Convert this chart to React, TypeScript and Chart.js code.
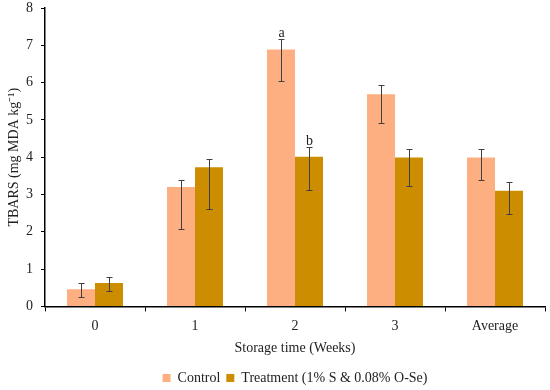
import React, { useEffect, useRef } from "react";
import { Chart, registerables } from "chart.js";

Chart.register(...registerables);

const categories = ["0", "1", "2", "3", "Average"];
const controlValues = [0.46, 3.2, 6.89, 5.69, 3.99];
const controlErrPlus = [0.18, 0.2, 0.27, 0.24, 0.23];
const controlErrMinus = [0.22, 1.13, 0.85, 0.76, 0.59];
const treatmentValues = [0.63, 3.73, 4.01, 3.99, 3.1];
const treatmentErrPlus = [0.17, 0.23, 0.27, 0.23, 0.23];
const treatmentErrMinus = [0.23, 1.13, 0.88, 0.76, 0.61];
const controlLetters = ["", "", "a", "", ""];
const treatmentLetters = ["", "", "b", "", ""];
const yTicks = [0, 1, 2, 3, 4, 5, 6, 7, 8];

const FONT = "'Liberation Serif', 'Times New Roman', serif";

const errorBarPlugin = {
  id: "errorBars",
  afterDatasetsDraw(chart: any) {
    const ctx = chart.ctx;
    const yScale = chart.scales.y;
    const sets = [
      { plus: controlErrPlus, minus: controlErrMinus, vals: controlValues, letters: controlLetters },
      { plus: treatmentErrPlus, minus: treatmentErrMinus, vals: treatmentValues, letters: treatmentLetters },
    ];
    ctx.save();
    sets.forEach((s, di) => {
      const meta = chart.getDatasetMeta(di);
      meta.data.forEach((bar: any, i: number) => {
        const x = Math.round(bar.x) + 0.5;
        const top = Math.round(yScale.getPixelForValue(s.vals[i] + s.plus[i])) + 0.5;
        const bottom = Math.round(yScale.getPixelForValue(s.vals[i] - s.minus[i])) + 0.5;
        ctx.strokeStyle = "#404040";
        ctx.lineWidth = 1;
        ctx.beginPath();
        ctx.moveTo(x, top);
        ctx.lineTo(x, bottom);
        ctx.moveTo(x - 3, top);
        ctx.lineTo(x + 3, top);
        ctx.moveTo(x - 3, bottom);
        ctx.lineTo(x + 3, bottom);
        ctx.stroke();
        if (s.letters[i]) {
          ctx.fillStyle = "#222";
          ctx.font = `14px ${FONT}`;
          ctx.textAlign = "center";
          ctx.textBaseline = "alphabetic";
          ctx.fillText(s.letters[i], x, top - 3);
        }
      });
    });
    ctx.restore();
  },
};

export default function App() {
  const ref = useRef<HTMLCanvasElement | null>(null);
  useEffect(() => {
    if (!ref.current) return;
    const chart = new Chart(ref.current, {
      type: "bar",
      data: {
        labels: categories,
        datasets: [
          {
            label: "Control",
            data: controlValues,
            backgroundColor: "#FDAF82",
            categoryPercentage: 0.56,
            barPercentage: 1,
          },
          {
            label: "Treatment (1% S & 0.08% O-Se)",
            data: treatmentValues,
            backgroundColor: "#CC8E00",
            categoryPercentage: 0.56,
            barPercentage: 1,
          },
        ],
      },
      options: {
        animation: false,
        responsive: false,
        maintainAspectRatio: false,
        layout: { padding: { top: 0, right: 5, left: 0, bottom: -5 } },
        plugins: {
          tooltip: { enabled: false },
          legend: {
            position: "bottom",
            fullSize: false,
            labels: {
              boxWidth: 8,
              boxHeight: 8,
              color: "#222",
              padding: 6,
              font: { family: FONT, size: 14 },
            },
          },
        },
        scales: {
          x: {
            grid: {
              display: true,
              drawOnChartArea: false,
              drawTicks: true,
              tickLength: 5,
              color: "#000",
              offset: true,
            },
            border: { display: true, color: "#000", width: 1.5 },
            ticks: { color: "#222", font: { family: FONT, size: 14 }, padding: 7 },
            title: {
              display: true,
              text: "Storage time (Weeks)",
              color: "#222",
              font: { family: FONT, size: 14 },
              padding: { top: -2, bottom: 8 },
            },
          },
          y: {
            min: 0,
            max: 8,
            afterBuildTicks(scale: any) {
              scale.ticks = yTicks.map((v) => ({ value: v }));
            },
            afterFit(scale: any) {
              scale.width = 45;
              scale.paddingTop = 8;
              scale.paddingBottom = 0;
            },
            grid: {
              display: true,
              drawOnChartArea: false,
              drawTicks: true,
              tickLength: 4,
              color: "#000",
            },
            border: { display: true, color: "#000", width: 1.5 },
            ticks: { color: "#222", font: { family: FONT, size: 14 }, padding: 8 },
            title: {
              display: true,
              text: "TBARS (mg MDA kg⁻¹)",
              color: "#222",
              font: { family: FONT, size: 14 },
              padding: { top: 6, bottom: 0 },
            },
          },
        },
      },
      plugins: [errorBarPlugin],
    });
    return () => chart.destroy();
  }, []);
  return (
    <div style={{ position: "fixed", left: 0, top: 0, width: 550, height: 390, background: "#fff" }}>
      <canvas ref={ref} width={550} height={390} />
    </div>
  );
}
